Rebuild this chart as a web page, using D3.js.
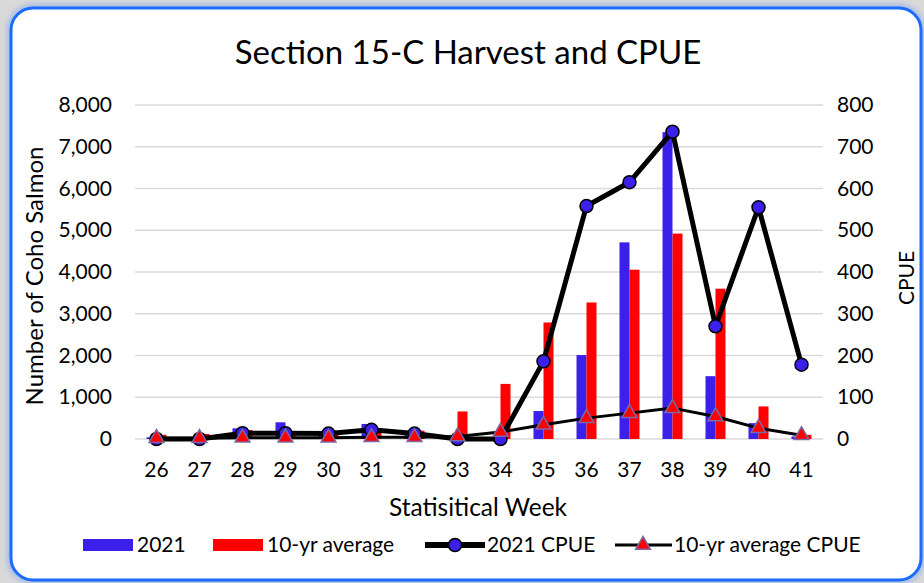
<!DOCTYPE html>
<html>
<head>
<meta charset="utf-8">
<script src="https://cdn.jsdelivr.net/npm/d3@7"></script>
<style>
  body { margin: 0; background: #ffffff; }
  svg text { font-family: Lato, "Open Sans", sans-serif; fill: #000; }
</style>
</head>
<body>
<svg id="chart" width="924" height="583"></svg>
<script>
// chart data
var weeks = [26, 27, 28, 29, 30, 31, 32, 33, 34, 35, 36, 37, 38, 39, 40, 41];
var harvest2021 = [40, 30, 255, 400, 190, 360, 100, 0, 20, 670, 2010, 4710, 7350, 1505, 380, 60];
var harvestAvg = [100, 120, 215, 150, 100, 175, 200, 660, 1320, 2790, 3270, 4055, 4920, 3600, 780, 100];
var cpue2021 = [0, 0, 14, 14, 13, 22, 13, 0, 0, 186, 558, 615, 736, 270, 555, 178];
var cpueAvg = [2, 2, 3, 3, 3, 4, 4, 6, 17, 34, 50, 62, 74, 54, 26, 9];
var leftTicks = [0, 1000, 2000, 3000, 4000, 5000, 6000, 7000, 8000];
var rightTicks = [0, 100, 200, 300, 400, 500, 600, 700, 800];

var blue = '#3a20ea';
var red = '#ff0000';
var triStroke = '#7b68a6';

var svg = d3.select('#chart');

// frame: gray page, blue rounded border
svg.append('rect').attr('width', 924).attr('height', 583).attr('fill', '#d9d9d9');
var defs = svg.append('defs');
var glow = defs.append('filter').attr('id', 'glow').attr('x', '-5%').attr('y', '-5%').attr('width', '110%').attr('height', '110%');
glow.append('feGaussianBlur').attr('stdDeviation', 3);
svg.append('rect')
  .attr('x', 11).attr('y', 8).attr('width', 910).attr('height', 572).attr('rx', 22)
  .attr('fill', 'none').attr('stroke', '#8fb0e8').attr('stroke-width', 6)
  .attr('filter', 'url(#glow)');
svg.append('rect')
  .attr('x', 11).attr('y', 8).attr('width', 910).attr('height', 572).attr('rx', 22)
  .attr('fill', '#ffffff').attr('stroke', '#1a6cff').attr('stroke-width', 3);

var x = d3.scaleBand().domain(weeks).range([135, 823]).padding(0);
var yL = d3.scaleLinear().domain([0, 8000]).range([439, 105]);
var yR = d3.scaleLinear().domain([0, 800]).range([439, 105]);
var cx = function(w) { return x(w) + x.bandwidth() / 2; };

// gridlines
svg.append('g').selectAll('line')
  .data(leftTicks)
  .enter().append('line')
  .attr('x1', 135).attr('x2', 823)
  .attr('y1', d => yL(d)).attr('y2', d => yL(d))
  .attr('stroke', '#d9d9d9').attr('stroke-width', 1.5);

// left axis labels
var fmt = d3.format(',');
svg.append('g').selectAll('text')
  .data(leftTicks)
  .enter().append('text')
  .attr('x', 112).attr('y', d => yL(d) + 7)
  .attr('text-anchor', 'end')
  .style('font-size', '21px')
  .text(d => fmt(d));

// right axis labels
svg.append('g').selectAll('text')
  .data(rightTicks)
  .enter().append('text')
  .attr('x', 837).attr('y', d => yR(d) + 7)
  .style('font-size', '21px')
  .text(d => d);

// x labels
svg.append('g').selectAll('text')
  .data(weeks)
  .enter().append('text')
  .attr('x', d => cx(d)).attr('y', 477)
  .attr('text-anchor', 'middle')
  .style('font-size', '21px')
  .text(d => d);

// bars
var barW = 10;
svg.append('g').selectAll('rect')
  .data(weeks)
  .enter().append('rect')
  .attr('x', d => cx(d) - barW).attr('width', barW)
  .attr('y', (d, i) => yL(harvest2021[i]))
  .attr('height', (d, i) => yL(0) - yL(harvest2021[i]))
  .attr('fill', blue);
svg.append('g').selectAll('rect')
  .data(weeks)
  .enter().append('rect')
  .attr('x', d => cx(d)).attr('width', barW)
  .attr('y', (d, i) => yL(harvestAvg[i]))
  .attr('height', (d, i) => yL(0) - yL(harvestAvg[i]))
  .attr('fill', red);

// 2021 CPUE line + circles
var line = d3.line().x(d => cx(d.w)).y(d => yR(d.v));
var c21 = weeks.map((w, i) => ({ w: w, v: cpue2021[i] }));
var cav = weeks.map((w, i) => ({ w: w, v: cpueAvg[i] }));

svg.append('path').datum(c21)
  .attr('d', line).attr('fill', 'none')
  .attr('stroke', '#000').attr('stroke-width', 5).attr('stroke-linejoin', 'round');
svg.append('g').selectAll('circle')
  .data(c21)
  .enter().append('circle')
  .attr('cx', d => cx(d.w)).attr('cy', d => yR(d.v)).attr('r', 6.5)
  .attr('fill', blue).attr('stroke', '#000').attr('stroke-width', 1.5);

// 10-yr avg CPUE line + triangles
svg.append('path').datum(cav)
  .attr('d', line).attr('fill', 'none')
  .attr('stroke', '#000').attr('stroke-width', 3).attr('stroke-linejoin', 'round');
var tri = d3.symbol().type(d3.symbolTriangle).size(95);
svg.append('g').selectAll('path')
  .data(cav)
  .enter().append('path')
  .attr('d', tri)
  .attr('transform', d => 'translate(' + cx(d.w) + ',' + yR(d.v) + ')')
  .attr('fill', red).attr('stroke', triStroke).attr('stroke-width', 1.5);

// titles
svg.append('text')
  .attr('x', 468).attr('y', 64).attr('text-anchor', 'middle')
  .style('font-size', '33px')
  .text('Section 15-C Harvest and CPUE');
svg.append('text')
  .attr('x', 478).attr('y', 516).attr('text-anchor', 'middle')
  .style('font-size', '24.5px')
  .text('Statisitical Week');
svg.append('text')
  .attr('transform', 'translate(43,276) rotate(-90)')
  .attr('text-anchor', 'middle')
  .style('font-size', '24px')
  .text('Number of Coho Salmon');
svg.append('text')
  .attr('transform', 'translate(914,278) rotate(-90)')
  .attr('text-anchor', 'middle')
  .style('font-size', '21px')
  .text('CPUE');

// legend
var lg = svg.append('g').style('font-size', '21px');
var ly = 545;
lg.append('rect').attr('x', 83).attr('y', ly - 6).attr('width', 50).attr('height', 12).attr('fill', blue);
lg.append('text').attr('x', 137).attr('y', ly + 7).text('2021');
lg.append('rect').attr('x', 213).attr('y', ly - 6).attr('width', 50).attr('height', 12).attr('fill', red);
lg.append('text').attr('x', 267).attr('y', ly + 7).text('10-yr average');
lg.append('line').attr('x1', 425).attr('x2', 485).attr('y1', ly).attr('y2', ly)
  .attr('stroke', '#000').attr('stroke-width', 6);
lg.append('circle').attr('cx', 455).attr('cy', ly).attr('r', 6.5)
  .attr('fill', blue).attr('stroke', '#000').attr('stroke-width', 1.5);
lg.append('text').attr('x', 487).attr('y', ly + 7).text('2021 CPUE');
lg.append('line').attr('x1', 615).attr('x2', 672).attr('y1', ly).attr('y2', ly)
  .attr('stroke', '#000').attr('stroke-width', 3);
lg.append('path').attr('d', tri).attr('transform', 'translate(643,' + ly + ')')
  .attr('fill', red).attr('stroke', triStroke).attr('stroke-width', 1.5);
lg.append('text').attr('x', 674).attr('y', ly + 7).text('10-yr average CPUE');
</script>
</body>
</html>
